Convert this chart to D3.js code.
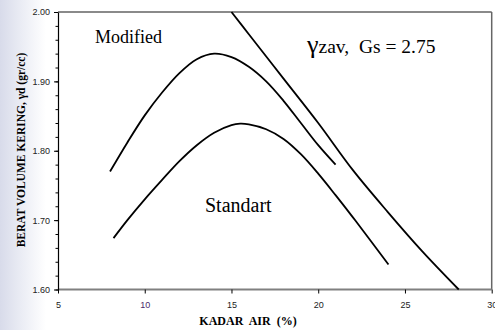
<!DOCTYPE html>
<html>
<head>
<meta charset="utf-8">
<script src="https://cdn.jsdelivr.net/npm/d3@7"></script>
<style>
  html, body { margin: 0; padding: 0; background: #fff; }
  svg { display: block; }
</style>
</head>
<body>
<div id="chart"></div>
<script>
const W = 495, H = 330;
const margin = { left: 58, right: 3.3, top: 12, bottom: 40.5 };

// data: water content (%) vs dry density (gr/cc)
const modifiedW = [8.0, 9.0, 10.0, 11.0, 12.0, 13.0, 14.0, 15.0, 16.0, 17.0, 18.0, 19.0, 20.0, 21.0];
const modifiedG = [1.770, 1.812, 1.851, 1.884, 1.912, 1.932, 1.940, 1.935, 1.921, 1.900, 1.872, 1.840, 1.808, 1.780];

const standartW = [8.2, 9.0, 10.0, 11.0, 12.0, 13.0, 14.0, 15.0, 15.5, 16.0, 17.0, 18.0, 19.0, 20.0, 21.0, 22.0, 23.0, 24.05];
const standartG = [1.674, 1.700, 1.730, 1.758, 1.785, 1.808, 1.826, 1.837, 1.839, 1.838, 1.831, 1.817, 1.795, 1.767, 1.736, 1.704, 1.671, 1.636];

const zavW = [15.0, 16.0, 18.0, 20.0, 22.0, 24.0, 26.0, 28.1];
const zavG = [2.00, 1.968, 1.904, 1.840, 1.772, 1.712, 1.655, 1.60];

const xTicks = [5, 10, 15, 20, 25, 30];
const yTicks = [1.60, 1.70, 1.80, 1.90, 2.00];

const x = d3.scaleLinear().domain([5, 30]).range([margin.left, W - margin.right]);
const y = d3.scaleLinear().domain([1.6, 2.0]).range([H - margin.bottom, margin.top]);

const svg = d3.select("#chart").append("svg").attr("width", W).attr("height", H);

// faint bluish band on the left edge of the scan
const defs = svg.append("defs");
const grad = defs.append("linearGradient").attr("id", "band").attr("x1", 0).attr("x2", 1).attr("y1", 0).attr("y2", 0);
grad.append("stop").attr("offset", 0).attr("stop-color", "#d8dbea");
grad.append("stop").attr("offset", 0.45).attr("stop-color", "#eaecf4");
grad.append("stop").attr("offset", 1).attr("stop-color", "#ffffff");
svg.append("rect").attr("x", 0).attr("y", 0).attr("width", 46).attr("height", H).attr("fill", "url(#band)");

const x0 = x(5), x1 = x(30), yTop = y(2.0), yBot = y(1.6);

// frame
svg.append("line").attr("x1", x0).attr("x2", x1).attr("y1", yTop).attr("y2", yTop)
  .attr("stroke", "#8a8a8a").attr("stroke-width", 2);
svg.append("line").attr("x1", x1).attr("x2", x1).attr("y1", yTop).attr("y2", yBot)
  .attr("stroke", "#666").attr("stroke-width", 1.5);
svg.append("line").attr("x1", x0).attr("x2", x1).attr("y1", yBot).attr("y2", yBot)
  .attr("stroke", "#808080").attr("stroke-width", 2);

// x axis
const xAxis = svg.append("g").attr("transform", `translate(0,${yBot})`)
  .call(d3.axisBottom(x).tickValues(xTicks).tickSize(4).tickSizeOuter(0).tickPadding(8).tickFormat(d3.format("d")));
xAxis.select(".domain").remove();
xAxis.selectAll("line").attr("stroke", "#000");
xAxis.selectAll("text").attr("font-family", "Liberation Sans, Arial, sans-serif").attr("font-size", 9)
  .attr("fill", d => d === 10 ? "#4a2a6a" : "#222");

// y axis with minor ticks
const yMinor = d3.range(1.60, 2.001, 0.02);
svg.append("g").attr("transform", `translate(${x0},0)`)
  .call(d3.axisLeft(y).tickValues(yMinor).tickSize(2.5).tickFormat(""))
  .call(g => g.selectAll("line").attr("stroke", "#000"))
  .call(g => g.select(".domain").remove());
const yAxis = svg.append("g").attr("transform", `translate(${x0},0)`)
  .call(d3.axisLeft(y).tickValues(yTicks).tickSize(4).tickSizeOuter(0).tickPadding(4).tickFormat(d3.format(".2f")));
yAxis.select(".domain").attr("stroke", "#000").attr("stroke-width", 1.2);
yAxis.selectAll("line").attr("stroke", "#000");
yAxis.selectAll("text").attr("font-family", "Liberation Sans, Arial, sans-serif").attr("font-size", 9).attr("fill", "#222");

// curves
const line = d3.line().x(d => x(d[0])).y(d => y(d[1])).curve(d3.curveCatmullRom.alpha(0.5));
const series = [
  d3.zip(modifiedW, modifiedG),
  d3.zip(standartW, standartG),
  d3.zip(zavW, zavG)
];
svg.selectAll(".curve").data(series).enter().append("path")
  .attr("class", "curve")
  .attr("d", line)
  .attr("fill", "none")
  .attr("stroke", "#000")
  .attr("stroke-width", 1.8)
  .attr("stroke-linejoin", "round");

// labels
const serif = "Liberation Serif, Times New Roman, serif";
svg.append("text").attr("x", 95).attr("y", 43).attr("font-family", serif).attr("font-size", 18)
  .text("Modified");
svg.append("text").attr("x", 205).attr("y", 212).attr("font-family", serif).attr("font-size", 20)
  .text("Standart");
const zt = svg.append("text").attr("x", 307).attr("y", 53).attr("font-family", serif).attr("font-size", 19.5)
  .style("white-space", "pre");
zt.append("tspan").attr("font-size", 26).text("γ");
zt.append("tspan").text("zav,  Gs = 2.75");

// axis titles
svg.append("text").attr("x", 248).attr("y", 325).attr("text-anchor", "middle")
  .attr("font-family", serif).attr("font-weight", "bold").attr("font-size", 12)
  .style("white-space", "pre").text("KADAR  AIR  (%)");
svg.append("text").attr("transform", "translate(25,150) rotate(-90)").attr("text-anchor", "middle")
  .attr("font-family", serif).attr("font-weight", "bold").attr("font-size", 11.5)
  .text("BERAT VOLUME KERING, γd (gr/cc)");
</script>
</body>
</html>
